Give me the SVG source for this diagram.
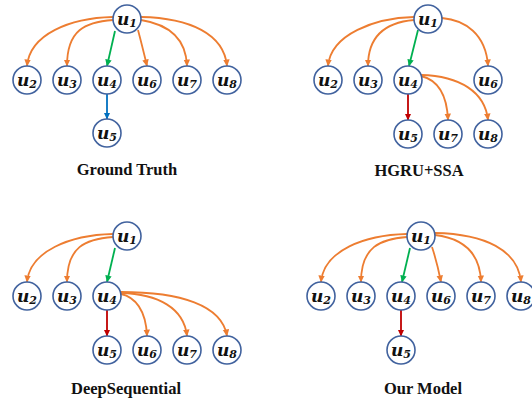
<svg xmlns="http://www.w3.org/2000/svg" width="532" height="405" viewBox="0 0 532 405">
  <style>
    .node circle { fill: #ffffff; stroke: #41629e; stroke-width: 1.6; }
    .node text { font-family: "DejaVu Serif", "Liberation Serif", serif; font-weight: bold; font-style: italic; font-size: 17px; fill: #111111; text-anchor: middle; }
    .node text tspan { font-size: 11px; }
    .edge { fill: none; stroke-width: 1.8; }
    .or { stroke: #ed7d31; marker-end: url(#ahO); }
    .gr { stroke: #00b050; marker-end: url(#ahG); }
    .bl { stroke: #0070c0; marker-end: url(#ahB); }
    .rd { stroke: #c00000; marker-end: url(#ahR); }
    .title { font-family: "Liberation Serif", "Times New Roman", serif; font-weight: bold; font-size: 16.5px; fill: #111111; text-anchor: middle; }
  </style>
  <defs>
    <marker id="ahO" markerUnits="userSpaceOnUse" markerWidth="8" markerHeight="7" refX="6.5" refY="3.25" orient="auto"><path d="M0,0 L7,3.25 L0,6.5 z" fill="#ed7d31"/></marker>
    <marker id="ahG" markerUnits="userSpaceOnUse" markerWidth="8" markerHeight="7" refX="6.5" refY="3.25" orient="auto"><path d="M0,0 L7,3.25 L0,6.5 z" fill="#00b050"/></marker>
    <marker id="ahB" markerUnits="userSpaceOnUse" markerWidth="8" markerHeight="7" refX="6.5" refY="3.25" orient="auto"><path d="M0,0 L7,3.25 L0,6.5 z" fill="#0070c0"/></marker>
    <marker id="ahR" markerUnits="userSpaceOnUse" markerWidth="8" markerHeight="7" refX="6.5" refY="3.25" orient="auto"><path d="M0,0 L7,3.25 L0,6.5 z" fill="#c00000"/></marker>
  </defs>

  <rect width="532" height="405" fill="#ffffff"/>

  <!-- Ground Truth -->
  <g id="connectors-gt">
    <path class="edge or" d="M113,17 C70,18 30,34 27,66"/>
    <path class="edge or" d="M113,20 C85,22 67,30 67,66"/>
    <path class="edge gr" d="M115,31 L107,66"/>
    <path class="edge or" d="M138,30 Q142,45 147,66"/>
    <path class="edge or" d="M141,20 C166,24 186,36 187,66"/>
    <path class="edge or" d="M141,17 C190,18 224,34 227,66"/>
    <path class="edge bl" d="M107,94 L107,119"/>
  </g>
  <g id="gt-u1" class="node"><circle cx="127" cy="19" r="14"/><text x="127" y="24.5">u<tspan dy="2.5">1</tspan></text></g>
  <g id="gt-u2" class="node"><circle cx="27" cy="80" r="14"/><text x="27" y="85.5">u<tspan dy="2.5">2</tspan></text></g>
  <g id="gt-u3" class="node"><circle cx="67" cy="80" r="14"/><text x="67" y="85.5">u<tspan dy="2.5">3</tspan></text></g>
  <g id="gt-u4" class="node"><circle cx="107" cy="80" r="14"/><text x="107" y="85.5">u<tspan dy="2.5">4</tspan></text></g>
  <g id="gt-u6" class="node"><circle cx="147" cy="80" r="14"/><text x="147" y="85.5">u<tspan dy="2.5">6</tspan></text></g>
  <g id="gt-u7" class="node"><circle cx="187" cy="80" r="14"/><text x="187" y="85.5">u<tspan dy="2.5">7</tspan></text></g>
  <g id="gt-u8" class="node"><circle cx="227" cy="80" r="14"/><text x="227" y="85.5">u<tspan dy="2.5">8</tspan></text></g>
  <g id="gt-u5" class="node"><circle cx="107" cy="133" r="14"/><text x="107" y="138.5">u<tspan dy="2.5">5</tspan></text></g>
  <text class="title" x="127" y="175">Ground Truth</text>

  <!-- HGRU+SSA -->
  <g id="connectors-hgru">
    <path class="edge or" d="M414,17 C375,18 331,34 328,66"/>
    <path class="edge or" d="M414,20 C390,22 368,32 368,66"/>
    <path class="edge gr" d="M418,30 L409,66"/>
    <path class="edge or" d="M442,18 C465,20 486,34 488,66"/>
    <path class="edge rd" d="M408,94 L408,120"/>
    <path class="edge or" d="M421,76 C438,80 447,95 448,120"/>
    <path class="edge or" d="M421,75 C460,76 485,92 488,120"/>
  </g>
  <g id="hg-u1" class="node"><circle cx="428" cy="19" r="14"/><text x="428" y="24.5">u<tspan dy="2.5">1</tspan></text></g>
  <g id="hg-u2" class="node"><circle cx="328" cy="80" r="14"/><text x="328" y="85.5">u<tspan dy="2.5">2</tspan></text></g>
  <g id="hg-u3" class="node"><circle cx="368" cy="80" r="14"/><text x="368" y="85.5">u<tspan dy="2.5">3</tspan></text></g>
  <g id="hg-u4" class="node"><circle cx="408" cy="80" r="14"/><text x="408" y="85.5">u<tspan dy="2.5">4</tspan></text></g>
  <g id="hg-u6" class="node"><circle cx="488" cy="80" r="14"/><text x="488" y="85.5">u<tspan dy="2.5">6</tspan></text></g>
  <g id="hg-u5" class="node"><circle cx="408" cy="134" r="14"/><text x="408" y="139.5">u<tspan dy="2.5">5</tspan></text></g>
  <g id="hg-u7" class="node"><circle cx="448" cy="134" r="14"/><text x="448" y="139.5">u<tspan dy="2.5">7</tspan></text></g>
  <g id="hg-u8" class="node"><circle cx="488" cy="134" r="14"/><text x="488" y="139.5">u<tspan dy="2.5">8</tspan></text></g>
  <text class="title" x="419" y="176">HGRU+SSA</text>

  <!-- DeepSequential -->
  <g id="connectors-ds">
    <path class="edge or" d="M113,234 C70,235 30,251 27,282"/>
    <path class="edge or" d="M113,237 C85,239 67,247 67,282"/>
    <path class="edge gr" d="M115,248 L107,282"/>
    <path class="edge rd" d="M107,310 L107,336"/>
    <path class="edge or" d="M121,294 C135,297 146,310 147,336"/>
    <path class="edge or" d="M121,293 C158,294 184,308 187,336"/>
    <path class="edge or" d="M121,292 C180,292 222,305 227,336"/>
  </g>
  <g id="ds-u1" class="node"><circle cx="127" cy="236" r="14"/><text x="127" y="241.5">u<tspan dy="2.5">1</tspan></text></g>
  <g id="ds-u2" class="node"><circle cx="27" cy="296" r="14"/><text x="27" y="301.5">u<tspan dy="2.5">2</tspan></text></g>
  <g id="ds-u3" class="node"><circle cx="67" cy="296" r="14"/><text x="67" y="301.5">u<tspan dy="2.5">3</tspan></text></g>
  <g id="ds-u4" class="node"><circle cx="107" cy="296" r="14"/><text x="107" y="301.5">u<tspan dy="2.5">4</tspan></text></g>
  <g id="ds-u5" class="node"><circle cx="107" cy="350" r="14"/><text x="107" y="355.5">u<tspan dy="2.5">5</tspan></text></g>
  <g id="ds-u6" class="node"><circle cx="147" cy="350" r="14"/><text x="147" y="355.5">u<tspan dy="2.5">6</tspan></text></g>
  <g id="ds-u7" class="node"><circle cx="187" cy="350" r="14"/><text x="187" y="355.5">u<tspan dy="2.5">7</tspan></text></g>
  <g id="ds-u8" class="node"><circle cx="227" cy="350" r="14"/><text x="227" y="355.5">u<tspan dy="2.5">8</tspan></text></g>
  <text class="title" x="126" y="394">DeepSequential</text>

  <!-- Our Model -->
  <g id="connectors-ours">
    <path class="edge or" d="M407,234 C365,235 324,250 321,282"/>
    <path class="edge or" d="M407,237 C380,239 361,247 361,282"/>
    <path class="edge gr" d="M410,248 L402,282"/>
    <path class="edge or" d="M432,247 Q437,262 441,282"/>
    <path class="edge or" d="M435,235 C460,238 480,250 481,282"/>
    <path class="edge or" d="M435,233 C485,234 518,250 521,282"/>
    <path class="edge rd" d="M401,310 L401,336"/>
  </g>
  <g id="om-u1" class="node"><circle cx="421" cy="236" r="14"/><text x="421" y="241.5">u<tspan dy="2.5">1</tspan></text></g>
  <g id="om-u2" class="node"><circle cx="321" cy="296" r="14"/><text x="321" y="301.5">u<tspan dy="2.5">2</tspan></text></g>
  <g id="om-u3" class="node"><circle cx="361" cy="296" r="14"/><text x="361" y="301.5">u<tspan dy="2.5">3</tspan></text></g>
  <g id="om-u4" class="node"><circle cx="401" cy="296" r="14"/><text x="401" y="301.5">u<tspan dy="2.5">4</tspan></text></g>
  <g id="om-u6" class="node"><circle cx="441" cy="296" r="14"/><text x="441" y="301.5">u<tspan dy="2.5">6</tspan></text></g>
  <g id="om-u7" class="node"><circle cx="481" cy="296" r="14"/><text x="481" y="301.5">u<tspan dy="2.5">7</tspan></text></g>
  <g id="om-u8" class="node"><circle cx="521" cy="296" r="14"/><text x="521" y="301.5">u<tspan dy="2.5">8</tspan></text></g>
  <g id="om-u5" class="node"><circle cx="401" cy="350" r="14"/><text x="401" y="355.5">u<tspan dy="2.5">5</tspan></text></g>
  <text class="title" x="423" y="394">Our Model</text>
</svg>
